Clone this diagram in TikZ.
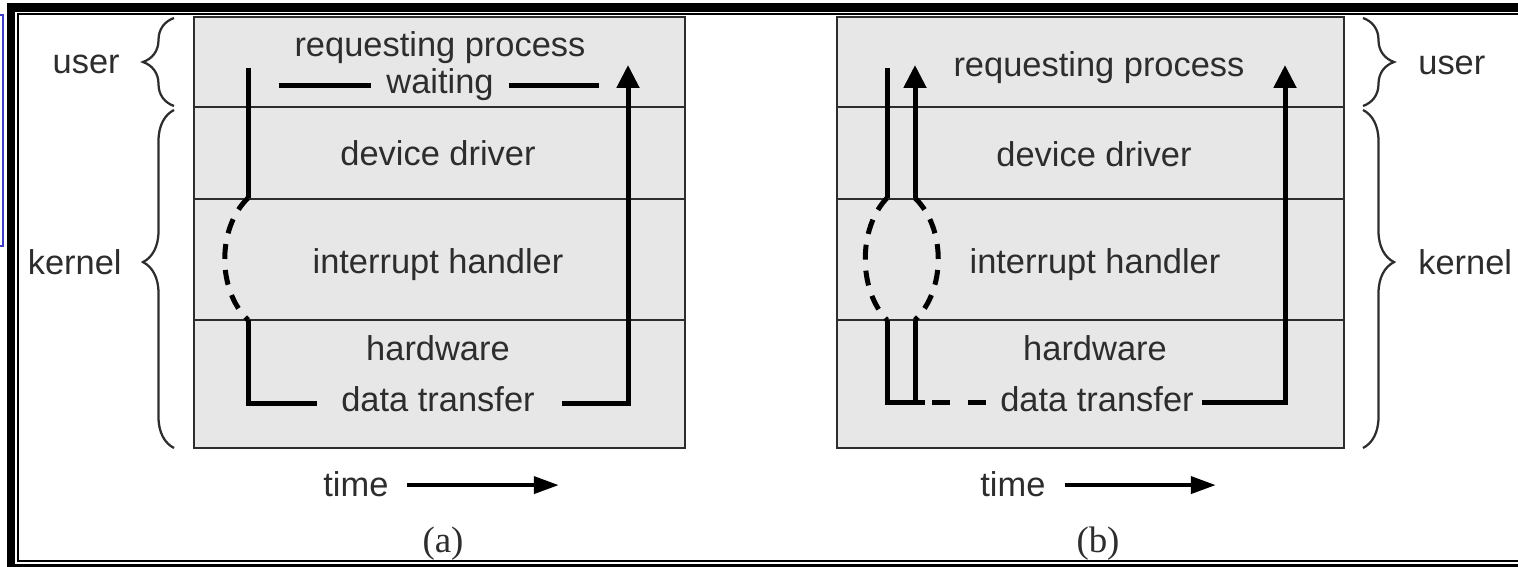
\documentclass[tikz,border=0pt]{standalone}
\usepackage{amsmath}
\usepackage{fontspec}
\setmainfont{Liberation Serif}
\setsansfont{Liberation Sans}
\usetikzlibrary{arrows.meta,decorations.pathreplacing}
\definecolor{layerfill}{RGB}{231,231,231}
\definecolor{inkgray}{RGB}{45,45,45}
\definecolor{markblue}{RGB}{60,60,200}

\begin{document}
\begin{tikzpicture}[x=0.02cm, y=0.02cm,
  layer/.style={draw=inkgray, line width=0.04cm},
  lbl/.style={font=\sffamily\fontsize{19.6}{23}\selectfont, text=inkgray, inner sep=0pt},
  figtag/.style={font=\rmfamily\fontsize{21}{25}\selectfont, text=inkgray, inner sep=0pt},
  flow/.style={line width=0.1cm},
  flowtip/.style={flow, -{Triangle[length=0.46cm,width=0.44cm]}},
  hop/.style={flow, dash pattern=on 0.3cm off 0.22cm},
  clock/.style={line width=0.08cm, -{Triangle[length=0.5cm,width=0.34cm]}},
  span/.style={draw=inkgray, line width=0.045cm, decorate,
    decoration={brace, amplitude=0.62cm, aspect=#1}},
  span/.default=0.5]
\useasboundingbox (0,0) rectangle (1518,-567);
\draw [markblue, line width=0.04cm] (-10,-15) rectangle (3,-246);
\fill [black] (7,-3) rectangle (1518,-12);
\fill [black] (7,-3) rectangle (15,-567);
\fill [black] (7,-563.5) rectangle (1518,-567);
\draw [black, line width=0.04cm] (1518,-14) -- (18,-14) -- (18,-561) -- (1518,-561);
\draw [layer, fill=layerfill] (194,-17) rectangle (685,-448);
\draw [layer, fill=layerfill] (837,-17) rectangle (1344,-448);
\foreach \y in {107,199,320} {
  \draw [layer] (194,-\y) -- (685,-\y);
  \draw [layer] (837,-\y) -- (1344,-\y);
}
\node [lbl, anchor=base] (reqL) at (440,-57) {requesting process};
\node [lbl, anchor=base] (waitL) at (440,-94) {waiting};
\node [lbl, anchor=base] (drvL) at (438,-166) {device driver};
\node [lbl, anchor=base] (intL) at (438,-274) {interrupt handler};
\node [lbl, anchor=base] (hwL) at (438,-361) {hardware};
\node [lbl, anchor=base] (dataL) at (438,-412) {data transfer};
\node [lbl, anchor=base] (reqR) at (1099,-77) {requesting process};
\node [lbl, anchor=base] (drvR) at (1094,-167) {device driver};
\node [lbl, anchor=base] (intR) at (1095,-274) {interrupt handler};
\node [lbl, anchor=base] (hwR) at (1095,-361) {hardware};
\node [lbl, anchor=base] (dataR) at (1097,-412) {data transfer};
\node [lbl, anchor=base east] (userL) at (120,-74) {user};
\node [lbl, anchor=base east] (kernL) at (122,-275) {kernel};
\node [lbl, anchor=base west] (userR) at (1418,-75) {user};
\node [lbl, anchor=base west] (kernR) at (1418,-275) {kernel};
\node [lbl, anchor=base west] (timeL) at (323,-496) {time};
\node [lbl, anchor=base west] (timeR) at (980,-496) {time};
\node [figtag, anchor=base] (tagA) at (443,-552) {(a)};
\node [figtag, anchor=base] (tagB) at (1098,-552) {(b)};
\draw [span] (174,-106) -- (174,-18);
\draw [span=0.55] (174,-448) -- (174,-110);
\draw [span] (1363,-18) -- (1363,-106);
\draw [span=0.45] (1363,-110) -- (1363,-448);
\coordinate (aTop) at (248,-68);
\coordinate (aHi) at (248,-198);
\coordinate (aLo) at (248,-320);
\coordinate (aCor) at (248,-404);
\coordinate (aOut) at (317,-404);
\coordinate (aIn) at (562,-404);
\coordinate (aUp) at (628,-404);
\coordinate (aTip) at (628,-65);
\draw [flow] (aTop) -- (aHi);
\draw [hop] (aHi) .. controls (217,-228) and (217,-290) .. (aLo);
\draw [flow] (aLo) -- (aCor) -- (aOut);
\draw [flowtip] (aIn) -- (aUp) -- (aTip);
\draw [flow] (waitL.west) ++(-15,0) -- ++(-92,0);
\draw [flow] (waitL.east) ++(15,0) -- ++(90,0);
\coordinate (bTop) at (887,-68);
\coordinate (bHi) at (887,-198);
\coordinate (bLo) at (887,-320);
\coordinate (bCor) at (887,-403);
\coordinate (cCor) at (915,-403);
\coordinate (cLo) at (915,-320);
\coordinate (cHi) at (915,-198);
\coordinate (cTip) at (915,-65);
\coordinate (bIn) at (1202,-403);
\coordinate (bUp) at (1285,-403);
\coordinate (bTip) at (1285,-65);
\draw [flow] (bTop) -- (bHi);
\draw [hop] (bHi) .. controls (858,-228) and (858,-290) .. (bLo);
\draw [hop] (cHi) .. controls (946,-228) and (946,-290) .. (cLo);
\draw [flow] (bLo) -- (bCor) -- (cCor) -- (cLo);
\draw [flowtip] (cHi) -- (cTip);
\draw [flow] (cCor) -- (925,-403);
\draw [flow, dash pattern=on 0.36cm off 0.36cm] (932,-403) -- (987,-403);
\draw [flowtip] (bIn) -- (bUp) -- (bTip);
\draw [clock] (timeL.east) ++(18,-1.4) -- ++(152,0);
\draw [clock] (timeR.east) ++(19,-1.4) -- ++(151,0);
\end{tikzpicture}
\end{document}
